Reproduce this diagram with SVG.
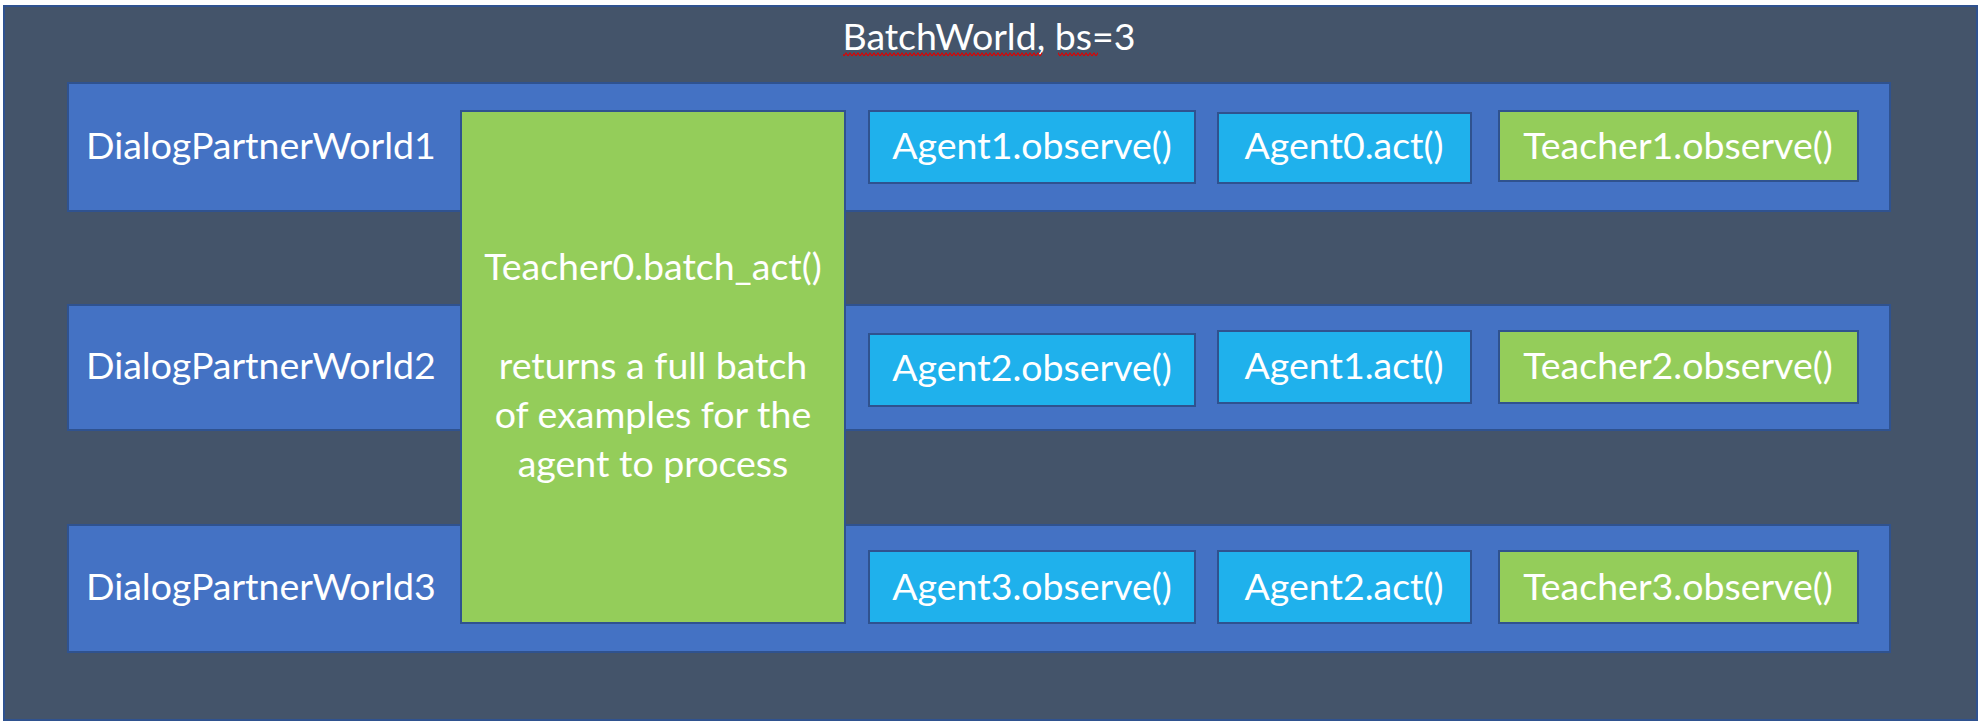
<svg xmlns="http://www.w3.org/2000/svg" width="1982" height="724" viewBox="0 0 1982 724">
<defs>
  <pattern id="squiggle" x="0" y="52" width="4" height="5" patternUnits="userSpaceOnUse">
    <path d="M0,4 L2,1 L4,4" fill="none" stroke="#E00000" stroke-width="1.1"/>
  </pattern>
</defs>
<style>
  .outer { fill: #44546A; stroke: #2F528F; stroke-width: 2; }
  .row { fill: #4472C4; stroke: #2F528F; stroke-width: 2; }
  .agent { fill: #1FB1EC; stroke: #2F528F; stroke-width: 2; }
  .teacher { fill: #94CD5A; stroke: #2F528F; stroke-width: 2; }
  text { font-family: Lato, "Open Sans", "Liberation Sans", sans-serif; font-size: 37.5px; fill: #FFFFFF; }
  .c { text-anchor: middle; }
</style>
<rect width="1982" height="724" fill="#FFFFFF"/>
<g id="batchworld">
  <rect class="outer" x="4" y="6" width="1973" height="714"/>
  <text class="c" x="989" y="50">BatchWorld, bs=3</text>
  <rect x="843" y="52" width="199" height="5" fill="url(#squiggle)"/>
  <rect x="1058" y="52" width="40" height="5" fill="url(#squiggle)"/>
</g>
<g id="world1">
  <rect class="row" x="68" y="83" width="1822" height="128"/>
  <text x="86" y="159">DialogPartnerWorld1</text>
</g>
<g id="world2">
  <rect class="row" x="68" y="305" width="1822" height="125"/>
  <text x="86" y="379">DialogPartnerWorld2</text>
</g>
<g id="world3">
  <rect class="row" x="68" y="525" width="1822" height="127"/>
  <text x="86" y="600">DialogPartnerWorld3</text>
</g>
<g id="teacher0">
  <rect class="teacher" x="461" y="111" width="384" height="512"/>
  <text class="c" x="653" y="280">Teacher0.batch_act()</text>
  <text class="c" x="653" y="379">returns a full batch</text>
  <text class="c" x="653" y="428">of examples for the</text>
  <text class="c" x="653" y="477">agent to process</text>
</g>
<g id="agent1-observe">
  <rect class="agent" x="869" y="111" width="326" height="72"/>
  <text class="c" x="1032" y="159">Agent1.observe()</text>
</g>
<g id="agent0-act">
  <rect class="agent" x="1218" y="113" width="253" height="70"/>
  <text class="c" x="1344" y="159">Agent0.act()</text>
</g>
<g id="teacher1-observe">
  <rect class="teacher" x="1499" y="111" width="359" height="70"/>
  <text class="c" x="1678" y="159">Teacher1.observe()</text>
</g>
<g id="agent2-observe">
  <rect class="agent" x="869" y="334" width="326" height="72"/>
  <text class="c" x="1032" y="381">Agent2.observe()</text>
</g>
<g id="agent1-act">
  <rect class="agent" x="1218" y="331" width="253" height="72"/>
  <text class="c" x="1344" y="379">Agent1.act()</text>
</g>
<g id="teacher2-observe">
  <rect class="teacher" x="1499" y="331" width="359" height="72"/>
  <text class="c" x="1678" y="379">Teacher2.observe()</text>
</g>
<g id="agent3-observe">
  <rect class="agent" x="869" y="551" width="326" height="72"/>
  <text class="c" x="1032" y="600">Agent3.observe()</text>
</g>
<g id="agent2-act">
  <rect class="agent" x="1218" y="551" width="253" height="72"/>
  <text class="c" x="1344" y="600">Agent2.act()</text>
</g>
<g id="teacher3-observe">
  <rect class="teacher" x="1499" y="551" width="359" height="72"/>
  <text class="c" x="1678" y="600">Teacher3.observe()</text>
</g>
<g id="connectors"></g>
</svg>
